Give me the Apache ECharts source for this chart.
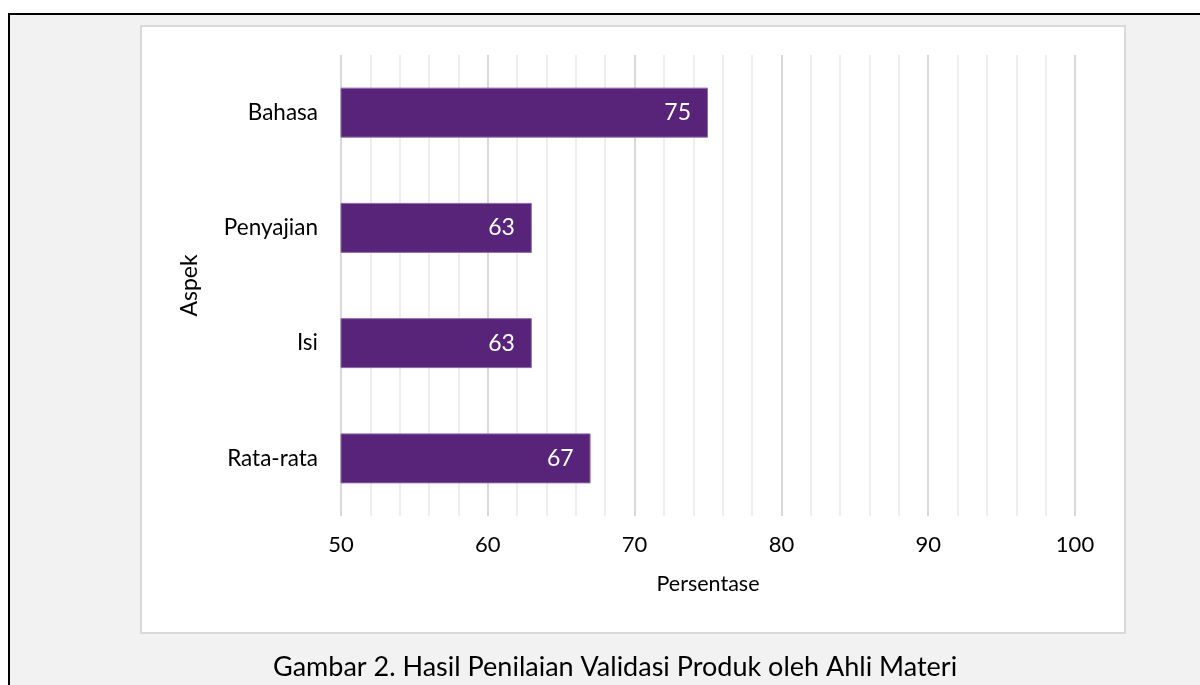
<!DOCTYPE html>
<html>
<head>
<meta charset="utf-8">
<script src="https://cdn.jsdelivr.net/npm/echarts@6/dist/echarts.min.js"></script>
<style>
  html, body { margin: 0; padding: 0; background: #fff; }
  body { width: 1200px; height: 685px; position: relative; overflow: hidden; }
  .frame {
    position: absolute; left: 8px; top: 13px; width: 1200px; height: 700px;
    border-left: 2px solid #000; border-top: 2px solid #000;
    background: #f2f2f2;
  }
  .panel {
    position: absolute; left: 140px; top: 25px; width: 982px; height: 605px;
    border: 2px solid #d9d9d9; background: #fff;
  }
  #chart { position: absolute; left: 0; top: 0; width: 1200px; height: 685px; }
</style>
</head>
<body>
  <div class="frame"></div>
  <div class="panel"></div>
  <div id="chart"></div>
<script>
  // data
  const categories = ['Bahasa', 'Penyajian', 'Isi', 'Rata-rata']
  const values = [75, 63, 63, 67]
  const xTicks = { min: 50, max: 100, step: 10 }
  const caption = 'Gambar 2. Hasil Penilaian Validasi Produk oleh Ahli Materi'

  const font = 'Lato, "Open Sans", sans-serif'
  const chart = echarts.init(document.getElementById('chart'), null, { renderer: 'canvas' })

  chart.setOption({
    backgroundColor: 'transparent',
    textStyle: { fontFamily: font },
    title: {
      text: caption,
      left: 268,
      top: 649,
      textStyle: { fontFamily: font, fontSize: 27, fontWeight: 'normal', color: '#000' }
    },
    grid: { left: 341, right: 125, top: 55, bottom: 169 },
    xAxis: {
      type: 'value',
      min: xTicks.min,
      max: xTicks.max,
      interval: xTicks.step,
      name: 'Persentase',
      nameLocation: 'middle',
      nameGap: 57,
      nameTextStyle: { fontSize: 21.5, color: '#000', fontFamily: font },
      axisLine: { show: false },
      axisTick: { show: false },
      axisLabel: { fontSize: 22, color: '#000', margin: 18, fontFamily: font },
      splitLine: { show: true, lineStyle: { color: '#d9d9d9', width: 2 } },
      minorTick: { show: false, splitNumber: 5 },
      minorSplitLine: { show: true, lineStyle: { color: '#eeeeee', width: 2 } }
    },
    yAxis: {
      type: 'category',
      data: categories,
      inverse: true,
      name: 'Aspek',
      nameLocation: 'middle',
      nameGap: 140,
      nameRotate: 90,
      nameTextStyle: { fontSize: 23, color: '#000', fontFamily: font },
      axisLine: { show: false },
      axisTick: { show: false },
      axisLabel: { fontSize: 22.5, color: '#000', margin: 23, fontFamily: font }
    },
    series: [{
      type: 'bar',
      data: values,
      barWidth: 50,
      itemStyle: { color: '#582479', borderColor: '#8c6cab', borderWidth: 1 },
      label: {
        show: true,
        position: 'insideRight',
        distance: 17,
        color: '#fff',
        fontSize: 23,
        fontFamily: font
      },
      silent: true
    }]
  })
</script>
</body>
</html>
